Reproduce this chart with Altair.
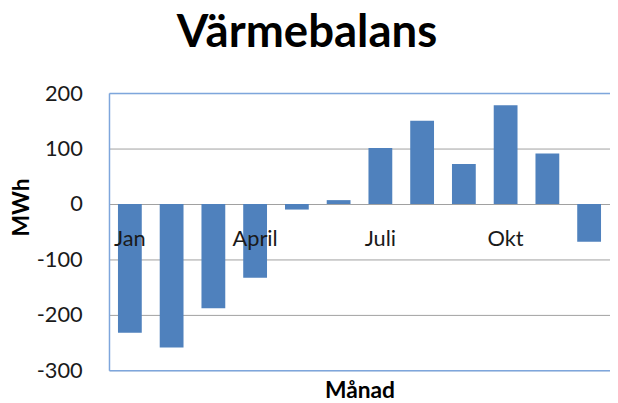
import altair as alt
import pandas as pd

months = ["Jan", "Feb", "Mars", "April", "Maj", "Juni", "Juli", "Aug", "Sep", "Okt", "Nov", "Dec"]
values = [-232, -259, -188, -133, -10, 7, 101, 150, 72, 178, 91, -68]
shown_labels = ["Jan", "", "", "April", "", "", "Juli", "", "", "Okt", "", ""]
y_ticks = [-300, -200, -100, 0, 100, 200]

df = pd.DataFrame({"month": months, "value": values, "label": shown_labels, "zero": [0] * 12})

FONT = "Lato"
BORDER = "#7ea6dc"
GRID = "#a0a0a0"

x_enc = alt.X(
    "month:N", sort=months, title="Månad",
    scale=alt.Scale(paddingInner=0.43, paddingOuter=0.215),
    axis=alt.Axis(labels=False, ticks=False, domain=False, titleFont=FONT,
                  titleFontSize=23, titleFontWeight="bold", titleColor="black",
                  titleBaseline="middle", titleY=20),
)

bars = alt.Chart(df).mark_bar(color="#4f81bd").encode(
    x=x_enc,
    y=alt.Y("value:Q", title="MWh",
            scale=alt.Scale(domain=[-300, 200], nice=False, zero=False),
            axis=alt.Axis(values=y_ticks, ticks=False, tickSize=0, labelPadding=27,
                          labelExpr="datum.value + ''",
                          labelFont=FONT, labelFontSize=22, labelColor="#1a1a1a",
                          domainColor=BORDER, domainWidth=1.5,
                          gridColor=alt.condition("datum.value == 200 || datum.value == -300",
                                                  alt.value(BORDER), alt.value(GRID)),
                          gridWidth=alt.condition("datum.value == 200 || datum.value == -300",
                                                  alt.value(1.5), alt.value(1)),
                          titleFont=FONT, titleFontSize=23, titleFontWeight="bold",
                          titleColor="black", titleX=-88, titleY=115,
                          titleBaseline="middle", titleAngle=-90)),
)

labels = alt.Chart(df).mark_text(dy=35, font=FONT, fontSize=22, color="#1a1a1a").encode(
    x=alt.X("month:N", sort=months),
    y=alt.Y("zero:Q"),
    text="label:N",
)

chart = alt.layer(bars, labels).properties(
    width=506, height=280,
    title=alt.TitleParams("Värmebalans", font=FONT, fontSize=46, fontWeight="bold",
                          color="black", anchor="middle", dx=-53, dy=14, baseline="alphabetic"),
    padding={"left": 102, "top": 84, "right": 0, "bottom": 30},
    autosize=alt.AutoSizeParams(type="none"),
).configure_view(stroke=None).configure(background="white")

chart.save("out.html", embed_options={"renderer": "svg", "actions": False})
